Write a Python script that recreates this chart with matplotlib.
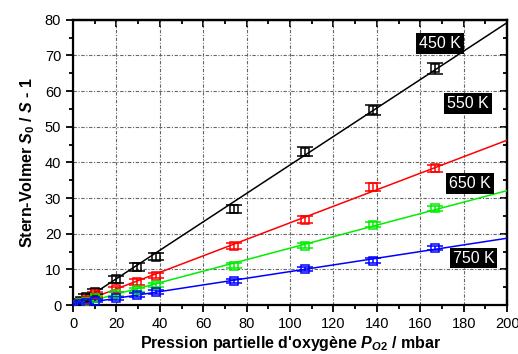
import numpy as np
import matplotlib
matplotlib.use('Agg')
import matplotlib.pyplot as plt
from matplotlib.ticker import MultipleLocator

plt.rcParams['font.family'] = ['Liberation Sans', 'DejaVu Sans']
plt.rcParams['mathtext.fontset'] = 'custom'
plt.rcParams['mathtext.it'] = 'Liberation Sans:italic:bold'
plt.rcParams['mathtext.rm'] = 'Liberation Sans:bold'
plt.rcParams['mathtext.bf'] = 'Liberation Sans:bold'

# pression partielle O2 (mbar)
p_o2 = [0, 3, 6, 10, 20, 29.5, 38, 74, 107, 138, 167]

# Stern-Volmer S0/S - 1 pour chaque temperature
sv_450 = [0, 1.2, 2.4, 3.8, 7.3, 10.7, 13.6, 26.9, 43.0, 54.8, 66.4]
sv_550 = [0, 0.7, 1.5, 3.0, 4.4, 6.5, 8.3, 16.6, 24.0, 33.1, 38.4]
sv_650 = [0, 0.5, 1.0, 2.1, 3.1, 4.2, 5.7, 11.1, 16.6, 22.5, 27.2]
sv_750 = [0, 0.3, 0.6, 1.3, 1.9, 2.8, 3.7, 6.8, 10.1, 12.5, 16.1]

err_450 = [0.3, 0.5, 0.6, 0.8, 1.0, 1.0, 1.0, 1.2, 1.3, 1.4, 1.5]
err_550 = [0.2, 0.4, 0.5, 0.6, 0.7, 0.8, 0.8, 0.8, 0.9, 1.1, 1.0]
err_650 = [0.2, 0.3, 0.4, 0.5, 0.5, 0.6, 0.6, 0.6, 0.7, 0.7, 0.7]
err_750 = [0.2, 0.3, 0.3, 0.4, 0.4, 0.5, 0.5, 0.5, 0.5, 0.6, 0.6]

labels = ['450 K', '550 K', '650 K', '750 K']
colors = ['black', 'red', '#00ee00', 'blue']
label_pos = [(169, 73.3), (182, 56.6), (183, 34.2), (184.5, 13.2)]

series = [sv_450, sv_550, sv_650, sv_750]
errors = [err_450, err_550, err_650, err_750]

fig = plt.figure(figsize=(5.18, 3.54), dpi=100)
ax = fig.add_axes([0.141, 0.138, 0.838, 0.806])

xfit = np.array([0, 200])
for y, e, c, lab, pos in zip(series, errors, colors, labels, label_pos):
    slope, icpt = np.polyfit(p_o2, y, 1)
    ax.plot(xfit, slope * xfit + icpt, color=c, lw=1.1, zorder=3)
    ax.errorbar(p_o2, y, yerr=e, fmt='s', mfc='none', mec=c, ecolor=c,
                ms=6, mew=1.1, elinewidth=1.1, capsize=6, capthick=1.1, zorder=4)
    ax.text(pos[0], pos[1], lab, color='white', fontsize=11.5, ha='center', va='center',
            bbox=dict(boxstyle='square,pad=0.18', fc='black', ec='none'), zorder=5)

ax.set_xlim(0, 200)
ax.set_ylim(0, 80)
ax.xaxis.set_major_locator(MultipleLocator(20))
ax.xaxis.set_minor_locator(MultipleLocator(10))
ax.yaxis.set_major_locator(MultipleLocator(10))
ax.yaxis.set_minor_locator(MultipleLocator(5))
ax.grid(True, which='major', color='#666666', ls=(0, (3, 1.5, 1, 1.5)), lw=0.8)
ax.set_axisbelow(True)

for sp in ax.spines.values():
    sp.set_linewidth(1.6)
ax.tick_params(which='both', width=1.3, labelsize=10.5)
ax.tick_params(which='major', length=5)
ax.tick_params(which='minor', length=3)
ax.tick_params(which='both', direction='out', top=False, right=False)
ax2 = ax.secondary_xaxis('top')
ax2.xaxis.set_major_locator(MultipleLocator(20))
ax2.xaxis.set_minor_locator(MultipleLocator(10))
ax2.tick_params(which='both', direction='in', width=1.3, labeltop=False)
ax2.tick_params(which='major', length=5)
ax2.tick_params(which='minor', length=3)
ax3 = ax.secondary_yaxis('right')
ax3.yaxis.set_major_locator(MultipleLocator(10))
ax3.yaxis.set_minor_locator(MultipleLocator(5))
ax3.tick_params(which='both', direction='in', width=1.3, labelright=False)
ax3.tick_params(which='major', length=5)
ax3.tick_params(which='minor', length=3)
for a in (ax2, ax3):
    for sp in a.spines.values():
        sp.set_linewidth(1.6)

ax.set_xlabel("Pression partielle d'oxygène $P_{O2}$ / mbar", fontsize=11.5,
              fontweight='bold', labelpad=2)
ax.set_ylabel("Stern-Volmer $S_0$ / $S$ - 1", fontsize=11.5, fontweight='bold', labelpad=6)

fig.savefig('out.png', dpi=100)
